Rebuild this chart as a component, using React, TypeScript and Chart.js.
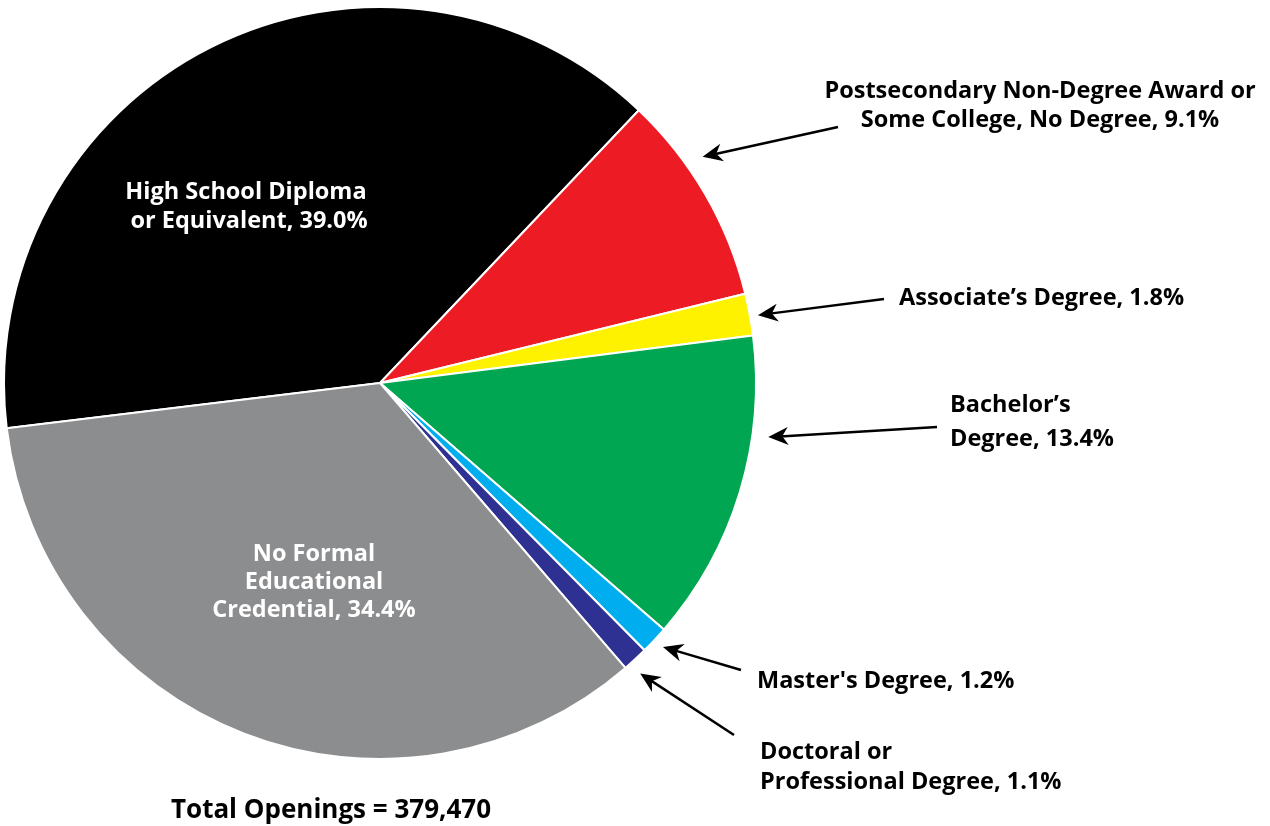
import React, { useEffect, useRef } from "react";
import { Chart, registerables } from "chart.js";

Chart.register(...registerables);

const categories = [
  "High School Diploma or Equivalent",
  "Postsecondary Non-Degree Award or Some College, No Degree",
  "Associate's Degree",
  "Bachelor's Degree",
  "Master's Degree",
  "Doctoral or Professional Degree",
  "No Formal Educational Credential",
];
const shares = [39.0, 9.1, 1.8, 13.4, 1.2, 1.1, 34.4];
const sliceColors = ["#000000", "#ED1C24", "#FFF200", "#00A651", "#00AEEF", "#2E3192", "#8C8D8F"];
const labelLines = [
  ["High School Diploma", " or Equivalent, 39.0%"],
  ["Postsecondary Non-Degree Award or", "Some College, No Degree, 9.1%"],
  ["Associate\u2019s Degree, 1.8%"],
  ["Bachelor\u2019s", "Degree, 13.4%"],
  ["Master's Degree, 1.2%"],
  ["Doctoral or", "Professional Degree, 1.1%"],
  ["No Formal", "Educational", "Credential, 34.4%"],
];
const totalLabel = "Total Openings = 379,470";

// annotation layout (text anchor, alignment, arrow)
type Ann = {
  x: number; y: number; align: CanvasTextAlign; color: string; lh: number;
  arrow?: { frac: number; gap: number; tail: [number, number] };
};
const annotations: Ann[] = [
  { x: 246, y: 192, align: "center", color: "#FFFFFF", lh: 29 },
  { x: 1040, y: 91, align: "center", color: "#000000", lh: 29, arrow: { frac: 0.35, gap: 18, tail: [838, 127] } },
  { x: 899, y: 298, align: "left", color: "#000000", lh: 29, arrow: { frac: 0.55, gap: 8, tail: [884, 299] } },
  { x: 950, y: 405, align: "left", color: "#000000", lh: 34, arrow: { frac: 0.315, gap: 16, tail: [937, 427] } },
  { x: 757, y: 681, align: "left", color: "#000000", lh: 29, arrow: { frac: 0.47, gap: 11, tail: [741, 670] } },
  { x: 760, y: 752, align: "left", color: "#000000", lh: 30, arrow: { frac: 0.72, gap: 14, tail: [734, 735] } },
  { x: 314, y: 554, align: "center", color: "#FFFFFF", lh: 28 },
];

const FONT = '700 23.5px "Open Sans"';
const TOTAL_FONT = '700 26px "Open Sans"';

const annotationPlugin = {
  id: "annotations",
  afterDraw(chart: any) {
    const ctx: CanvasRenderingContext2D = chart.ctx;
    const meta = chart.getDatasetMeta(0);
    ctx.save();
    ctx.font = FONT;
    ctx.textBaseline = "middle";
    annotations.forEach((a, i) => {
      ctx.fillStyle = a.color;
      ctx.textAlign = a.align;
      labelLines[i].forEach((line, j) => {
        ctx.fillText(line, a.x, a.y + j * a.lh);
      });
      if (a.arrow) {
        const arc = meta.data[i];
        const p = arc.getProps(["x", "y", "startAngle", "endAngle", "outerRadius"], true);
        const ang = p.startAngle + a.arrow.frac * (p.endAngle - p.startAngle);
        const r = p.outerRadius + a.arrow.gap;
        const tx = p.x + r * Math.cos(ang);
        const ty = p.y + r * Math.sin(ang);
        const [sx, sy] = a.arrow.tail;
        const dir = Math.atan2(ty - sy, tx - sx);
        ctx.strokeStyle = "#000";
        ctx.fillStyle = "#000";
        ctx.lineWidth = 2.5;
        ctx.beginPath();
        ctx.moveTo(sx, sy);
        ctx.lineTo(tx - 12 * Math.cos(dir), ty - 12 * Math.sin(dir));
        ctx.stroke();
        ctx.save();
        ctx.translate(tx, ty);
        ctx.rotate(dir);
        ctx.beginPath();
        ctx.moveTo(0, 0);
        ctx.lineTo(-20, -9);
        ctx.lineTo(-14, 0);
        ctx.lineTo(-20, 9);
        ctx.closePath();
        ctx.fill();
        ctx.restore();
      }
    });
    ctx.fillStyle = "#000";
    ctx.textAlign = "center";
    ctx.font = TOTAL_FONT;
    ctx.fillText(totalLabel, 331, 811);
    ctx.restore();
  },
};

export default function App() {
  const ref = useRef<HTMLCanvasElement>(null);
  useEffect(() => {
    if (!ref.current) return;
    const chart = new Chart(ref.current, {
      type: "pie",
      data: {
        labels: categories,
        datasets: [
          {
            data: shares,
            backgroundColor: sliceColors,
            borderColor: "#FFFFFF",
            borderWidth: 2,
          },
        ],
      },
      options: {
        responsive: false,
        animation: false,
        rotation: 263.1,
        radius: 376,
        layout: { padding: { left: 0, right: 510, top: 0, bottom: 60 } },
        plugins: { legend: { display: false }, tooltip: { enabled: false } },
      },
      plugins: [annotationPlugin],
    });
    return () => chart.destroy();
  }, []);
  return (
    <div style={{ position: "absolute", left: 0, top: 0, width: 1270, height: 826, background: "#fff" }}>
      <canvas ref={ref} width={1270} height={826} />
    </div>
  );
}
